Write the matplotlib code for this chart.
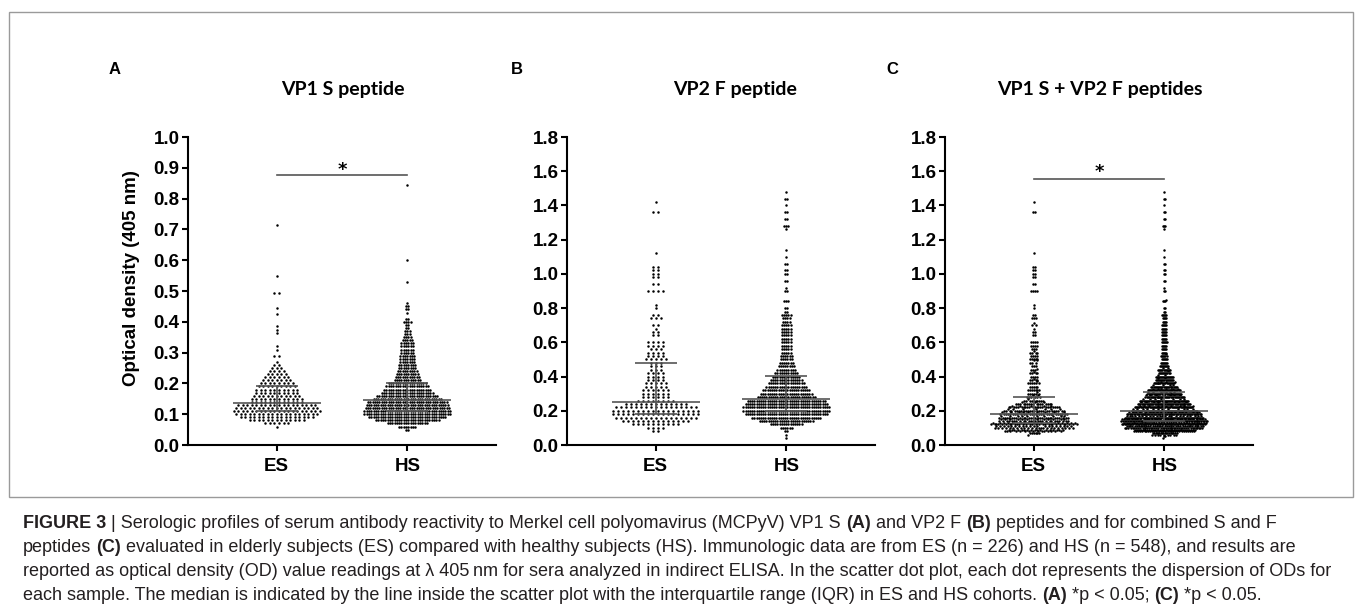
import numpy as np
import matplotlib
matplotlib.use('Agg')
import matplotlib.pyplot as plt
from matplotlib.patches import Rectangle

# optical density readings, binned (value, number of dots)
a_es_od = [0.06, 0.07, 0.08, 0.09, 0.10, 0.11, 0.12, 0.13, 0.14, 0.15, 0.16, 0.17, 0.18,
           0.19, 0.20, 0.21, 0.22, 0.23, 0.24, 0.25, 0.26, 0.27, 0.29, 0.31, 0.32, 0.365,
           0.375, 0.385, 0.425, 0.445, 0.495, 0.55, 0.715]
a_es_n = [1, 6, 13, 17, 19, 20, 19, 18, 12, 12, 11, 10, 10,
          9, 8, 7, 6, 5, 4, 3, 2, 1, 2, 1, 1, 1,
          1, 1, 1, 1, 2, 1, 1]

a_hs_od = [0.05, 0.06, 0.07, 0.08, 0.09, 0.10, 0.11, 0.12, 0.13, 0.14, 0.15, 0.16, 0.17,
           0.18, 0.19, 0.20, 0.21, 0.22, 0.23, 0.24, 0.25, 0.26, 0.27, 0.28, 0.29, 0.30,
           0.31, 0.32, 0.33, 0.34, 0.35, 0.36, 0.37, 0.38, 0.39, 0.40, 0.41, 0.43, 0.44,
           0.45, 0.46, 0.53, 0.60, 0.845]
a_hs_n = [2, 8, 18, 28, 34, 38, 38, 37, 36, 35, 30, 27, 23,
          21, 19, 17, 12, 11, 10, 9, 8, 8, 7, 7, 7, 6,
          6, 6, 6, 5, 4, 3, 3, 2, 2, 4, 2, 1, 2,
          2, 1, 1, 1, 1]

b_es_od = [0.08, 0.10, 0.12, 0.14, 0.16, 0.18, 0.20, 0.22, 0.24, 0.26, 0.28, 0.30, 0.32,
           0.34, 0.36, 0.38, 0.40, 0.42, 0.44, 0.46, 0.48, 0.50, 0.52, 0.54, 0.56, 0.58,
           0.60, 0.64, 0.66, 0.68, 0.70, 0.74, 0.76, 0.80, 0.82, 0.90, 0.94, 0.98, 1.00,
           1.02, 1.04, 1.12, 1.36, 1.42]
b_es_n = [2, 4, 10, 14, 17, 18, 18, 17, 13, 8, 6, 6, 6,
          5, 5, 4, 4, 4, 3, 3, 3, 5, 4, 4, 3, 4,
          4, 2, 2, 1, 2, 3, 2, 1, 1, 4, 2, 2, 2,
          2, 2, 1, 2, 1]

b_hs_od = [0.04, 0.06, 0.08, 0.10, 0.12, 0.14, 0.16, 0.18, 0.20, 0.22, 0.24, 0.26, 0.28,
           0.30, 0.32, 0.34, 0.36, 0.38, 0.40, 0.42, 0.44, 0.46, 0.48, 0.50, 0.52, 0.54,
           0.56, 0.58, 0.60, 0.62, 0.64, 0.66, 0.68, 0.70, 0.72, 0.74, 0.76, 0.78, 0.80,
           0.84, 0.90, 0.92, 0.96, 1.00, 1.02, 1.06, 1.10, 1.14, 1.26, 1.28, 1.32, 1.36,
           1.40, 1.44, 1.48]
b_hs_n = [1, 1, 2, 6, 15, 25, 32, 38, 40, 40, 38, 36, 27,
          24, 22, 19, 17, 15, 13, 11, 9, 8, 7, 6, 6, 5,
          5, 5, 5, 5, 5, 5, 5, 5, 4, 4, 5, 2, 2,
          3, 2, 1, 2, 2, 2, 2, 1, 1, 1, 3, 2, 2,
          1, 2, 1]

groups = ['ES', 'HS']
titles = ['VP1 S peptide', 'VP2 F peptide', 'VP1 S + VP2 F peptides']
letters = ['A', 'B', 'C']

a_es = np.repeat(a_es_od, a_es_n)
a_hs = np.repeat(a_hs_od, a_hs_n)
b_es = np.repeat(b_es_od, b_es_n)
b_hs = np.repeat(b_hs_od, b_hs_n)
c_es = np.concatenate([a_es, b_es])
c_hs = np.concatenate([a_hs, b_hs])

W, H = 1355, 610
fig = plt.figure(figsize=(W / 100, H / 100), dpi=100)
fig.patch.set_facecolor('white')

def fx(px):
    return px / W

def fy(py):
    return 1 - py / H

LINE = '#555555'


def swarm(ax, vals, center, step):
    vals = np.sort(vals)
    keys = np.floor(vals / step + 1e-6).astype(int)
    uniq, cnt = np.unique(keys, return_counts=True)
    sp = min(86.0 / max(cnt.max() - 1, 1), 5.0)  # px between dots in a row
    xs = np.empty_like(vals)
    for k in uniq:
        idx = np.where(keys == k)[0]
        n = len(idx)
        idx = idx[np.argsort((np.arange(n) * 0.618) % 1)]
        xs[idx] = center + (np.arange(n) - (n - 1) / 2) * sp / 131.0
    ax.scatter(xs, vals, s=3.2, c='black', linewidths=0, zorder=2)
    q1, med, q3 = np.percentile(vals, [25, 50, 75])
    ax.hlines(med, center - 0.336, center + 0.336, color=LINE, lw=1.2, zorder=3)
    ax.hlines([q1, q3], center - 0.16, center + 0.16, color=LINE, lw=1.2, zorder=3)
    ax.vlines(center, q1, q3, color=LINE, lw=1.2, zorder=3)


data = [(a_es, a_hs, 0.01, 1.0, 0.1), (b_es, b_hs, 0.02, 1.8, 0.2), (c_es, c_hs, 0.02, 1.8, 0.2)]
lefts = [188, 567, 945]
title_x = [343, 735, 1100]
letter_x = [115, 517, 892]

for i, (es, hs, step, ymax, tstep) in enumerate(data):
    ax = fig.add_axes([fx(lefts[i]), fy(445), 308 / W, 308 / H])
    swarm(ax, es, 0, step)
    swarm(ax, hs, 1, step)
    ax.set_xlim(-0.68, 1.68)
    ax.set_ylim(0, ymax)
    ticks = np.arange(0, ymax + 1e-9, tstep)
    ax.set_yticks(ticks)
    ax.set_yticklabels(['%.1f' % v for v in ticks])
    ax.set_xticks([0, 1])
    ax.set_xticklabels(groups)
    for sp in ['top', 'right']:
        ax.spines[sp].set_visible(False)
    for sp in ['left', 'bottom']:
        ax.spines[sp].set_linewidth(1.5)
    ax.tick_params(axis='y', length=4.5, width=1.5, pad=1.5)
    ax.tick_params(axis='x', length=4.5, width=1.5, pad=5)
    for lab in ax.get_xticklabels() + ax.get_yticklabels():
        lab.set_fontfamily('Liberation Sans')
        lab.set_fontweight('bold')
        lab.set_fontsize(13.5)
    ax.patch.set_alpha(0)
    fig.text(fx(title_x[i]), fy(89), titles[i], ha='center', va='center',
             family='Lato', fontweight='bold', fontsize=14)
    fig.text(fx(letter_x[i]), fy(69), letters[i], ha='center', va='center',
             family='Liberation Sans', fontweight='bold', fontsize=12)

    if i == 0:
        ax.plot([0, 1], [0.877, 0.877], color=LINE, lw=1.2)
        ax.text(0.5, 0.893, '*', ha='center', va='center', fontsize=13, fontweight='bold')
    if i == 2:
        ax.plot([0, 1], [1.553, 1.553], color=LINE, lw=1.2)
        ax.text(0.5, 1.594, '*', ha='center', va='center', fontsize=13, fontweight='bold')

fig.text(fx(132), fy(278), 'Optical density (405 nm)', rotation=90, ha='center', va='center',
         family='Liberation Sans', fontweight='bold', fontsize=13.5)

fig.patches.append(Rectangle((fx(9), fy(497)), (1353 - 9) / W, (497 - 12) / H,
                             transform=fig.transFigure, fill=False, ec='#9a9a9a', lw=1))

# caption with bold pieces
cap_lines = [
    [('FIGURE 3', True), (' | Serologic profiles of serum antibody reactivity to Merkel cell polyomavirus (MCPyV) VP1 S ', False),
     ('(A)', True), (' and VP2 F ', False), ('(B)', True), (' peptides and for combined S and F', False)],
    [('peptides ', False), ('(C)', True),
     (' evaluated in elderly subjects (ES) compared with healthy subjects (HS). Immunologic data are from ES (n = 226) and HS (n = 548), and results are', False)],
    [('reported as optical density (OD) value readings at \u03bb 405\u2009nm for sera analyzed in indirect ELISA. In the scatter dot plot, each dot represents the dispersion of ODs for', False)],
    [('each sample. The median is indicated by the line inside the scatter plot with the interquartile range (IQR) in ES and HS cohorts. ', False),
     ('(A)', True), (' *p < 0.05; ', False), ('(C)', True), (' *p < 0.05.', False)],
]
cap_y = [523, 547, 571, 596]
cap_size = 13.0
renderer = fig.canvas.get_renderer()
space = 0.278 * cap_size * 100 / 72
for parts, yy in zip(cap_lines, cap_y):
    cur = 23
    for txt, bold in parts:
        if txt.startswith(' '):
            cur += space
        body = txt.strip()
        t = fig.text(fx(cur), fy(yy), body, ha='left', va='center', fontsize=cap_size,
                     family=['Liberation Sans', 'DejaVu Sans'],
                     fontweight='bold' if bold else 'normal', color='#231f20')
        cur = t.get_window_extent(renderer).x1
        if txt.endswith(' '):
            cur += space

fig.savefig('out.png', dpi=100)
